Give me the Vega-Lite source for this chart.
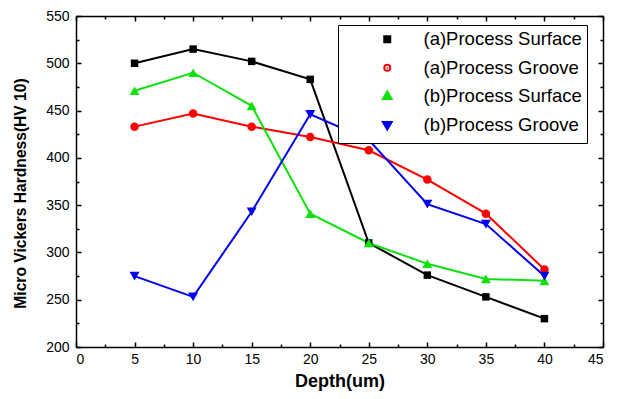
{
  "$schema": "https://vega.github.io/schema/vega-lite/v6.json",
  "width": 527,
  "height": 331,
  "autosize": "none",
  "padding": {"left": 76, "top": 16, "right": 21, "bottom": 52},
  "background": "white",
  "config": {
    "view": {"stroke": null},
    "font": "Liberation Sans",
    "axis": {
      "grid": false,
      "domainColor": "#000000",
      "domainWidth": 1.5,
      "tickColor": "#000000",
      "tickWidth": 1.5,
      "labelColor": "#000000",
      "labelFont": "Liberation Sans",
      "labelFontSize": 14,
      "titleColor": "#000000",
      "titleFont": "Liberation Sans",
      "titleFontWeight": "bold"
    }
  },
  "data": {
    "values": [
      {"series": "(a)Process Surface", "depth": 5, "hv": 500},
      {"series": "(a)Process Surface", "depth": 10, "hv": 515},
      {"series": "(a)Process Surface", "depth": 15, "hv": 502},
      {"series": "(a)Process Surface", "depth": 20, "hv": 483},
      {"series": "(a)Process Surface", "depth": 25, "hv": 310},
      {"series": "(a)Process Surface", "depth": 30, "hv": 276},
      {"series": "(a)Process Surface", "depth": 35, "hv": 253},
      {"series": "(a)Process Surface", "depth": 40, "hv": 230},
      {"series": "(a)Process Groove", "depth": 5, "hv": 433},
      {"series": "(a)Process Groove", "depth": 10, "hv": 447},
      {"series": "(a)Process Groove", "depth": 15, "hv": 433},
      {"series": "(a)Process Groove", "depth": 20, "hv": 422},
      {"series": "(a)Process Groove", "depth": 25, "hv": 408},
      {"series": "(a)Process Groove", "depth": 30, "hv": 377},
      {"series": "(a)Process Groove", "depth": 35, "hv": 341},
      {"series": "(a)Process Groove", "depth": 40, "hv": 282},
      {"series": "(b)Process Surface", "depth": 5, "hv": 471},
      {"series": "(b)Process Surface", "depth": 10, "hv": 490},
      {"series": "(b)Process Surface", "depth": 15, "hv": 455},
      {"series": "(b)Process Surface", "depth": 20, "hv": 341},
      {"series": "(b)Process Surface", "depth": 25, "hv": 310},
      {"series": "(b)Process Surface", "depth": 30, "hv": 288},
      {"series": "(b)Process Surface", "depth": 35, "hv": 272},
      {"series": "(b)Process Surface", "depth": 40, "hv": 270},
      {"series": "(b)Process Groove", "depth": 5, "hv": 275},
      {"series": "(b)Process Groove", "depth": 10, "hv": 253},
      {"series": "(b)Process Groove", "depth": 15, "hv": 343},
      {"series": "(b)Process Groove", "depth": 20, "hv": 446},
      {"series": "(b)Process Groove", "depth": 25, "hv": 419},
      {"series": "(b)Process Groove", "depth": 30, "hv": 351},
      {"series": "(b)Process Groove", "depth": 35, "hv": 330},
      {"series": "(b)Process Groove", "depth": 40, "hv": 275}
    ]
  },
  "layer": [
    {
      "mark": {"type": "line", "strokeWidth": 2},
      "encoding": {
        "x": {"field": "depth", "type": "quantitative", "scale": {"domain": [0, 45], "nice": false},
              "axis": {"orient": "bottom", "values": [0,5,10,15,20,25,30,35,40,45], "tickSize": -5, "labelPadding": 10, "title": "Depth(um)", "titleFontSize": 18, "titlePadding": 6}},
        "y": {"field": "hv", "type": "quantitative", "scale": {"domain": [200, 550], "nice": false},
              "axis": {"orient": "left", "values": [200,250,300,350,400,450,500,550], "tickSize": -5, "labelPadding": 12, "title": "Micro Vickers Hardness(HV 10)", "titleFontSize": 15.6, "titlePadding": 17, "titleY": 177}},
        "color": {"field": "series", "type": "nominal",
                  "scale": {"domain": ["(a)Process Surface", "(a)Process Groove", "(b)Process Surface", "(b)Process Groove"], "range": ["#000000", "#ff0000", "#10e010", "#0000ee"]},
                  "legend": {"title": null, "orient": "none", "legendX": 262, "legendY": 9, "direction": "vertical", "padding": 5, "strokeColor": "#000000", "fillColor": "#ffffff", "labelFont": "Liberation Sans", "labelFontSize": 18.5, "labelColor": "#000000", "labelExpr": "datum.label + '    '", "symbolSize": 4, "symbolOffset": 35, "labelOffset": 27, "symbolStrokeWidth": 6, "symbolOpacity": 1, "rowPadding": 1.5}}
      }
    },
    {
      "transform": [{"filter": "datum.series === '(a)Process Surface'"}],
      "mark": {"type": "point", "shape": "square", "filled": true, "size": 56, "opacity": 1, "color": "#000000"},
      "encoding": {
        "x": {"field": "depth", "type": "quantitative", "axis": {"orient": "bottom", "values": [2.5,7.5,12.5,17.5,22.5,27.5,32.5,37.5,42.5], "tickSize": -3, "labels": false, "title": null, "domain": false}},
        "y": {"field": "hv", "type": "quantitative", "axis": {"orient": "left", "values": [225,275,325,375,425,475,525], "tickSize": -3, "labels": false, "title": null, "domain": false}}
      }
    },
    {
      "transform": [{"filter": "datum.series === '(a)Process Groove'"}],
      "mark": {"type": "point", "shape": "circle", "filled": true, "size": 72, "opacity": 1, "color": "#ff0000"},
      "encoding": {
        "x": {"field": "depth", "type": "quantitative", "axis": {"orient": "top", "values": [0,5,10,15,20,25,30,35,40,45], "tickSize": -5, "labels": false, "title": null}},
        "y": {"field": "hv", "type": "quantitative", "axis": {"orient": "right", "values": [200,250,300,350,400,450,500,550], "tickSize": -5, "labels": false, "title": null}}
      }
    },
    {
      "transform": [{"filter": "datum.series === '(b)Process Surface'"}],
      "mark": {"type": "point", "shape": "triangle-up", "filled": true, "size": 100, "opacity": 1, "color": "#10e010"},
      "encoding": {
        "x": {"field": "depth", "type": "quantitative", "axis": {"orient": "top", "values": [2.5,7.5,12.5,17.5,22.5,27.5,32.5,37.5,42.5], "tickSize": -3, "labels": false, "title": null, "domain": false}},
        "y": {"field": "hv", "type": "quantitative", "axis": {"orient": "right", "values": [225,275,325,375,425,475,525], "tickSize": -3, "labels": false, "title": null, "domain": false}}
      }
    },
    {
      "transform": [{"filter": "datum.series === '(b)Process Groove'"}],
      "mark": {"type": "point", "shape": "triangle-down", "filled": true, "size": 100, "opacity": 1, "color": "#0000ee"},
      "encoding": {
        "x": {"field": "depth", "type": "quantitative", "axis": null},
        "y": {"field": "hv", "type": "quantitative", "axis": null}
      }
    },
    {
      "mark": {"type": "point", "filled": true, "opacity": 0, "size": 1},
      "encoding": {
        "x": {"field": "depth", "type": "quantitative", "axis": null},
        "y": {"field": "hv", "type": "quantitative", "axis": null},
        "shape": {"field": "series", "type": "nominal",
                  "scale": {"domain": ["(a)Process Surface", "(a)Process Groove", "(b)Process Surface", "(b)Process Groove"],
                            "range": ["square", "circle", "triangle-up", "triangle-down"]},
                  "legend": {"title": null, "orient": "none", "legendX": 262, "legendY": 9, "direction": "vertical", "padding": 5, "strokeColor": "#000000", "fillColor": "#ffffff", "labelFont": "Liberation Sans", "labelFontSize": 18.5, "labelColor": "#000000", "labelExpr": "datum.label + '    '", "symbolSize": 4, "symbolOffset": 35, "labelOffset": 27, "symbolStrokeWidth": 6, "symbolOpacity": 1, "rowPadding": 1.5}}
      }
    }
  ],
  "resolve": {"axis": {"x": "independent", "y": "independent"}}
}
